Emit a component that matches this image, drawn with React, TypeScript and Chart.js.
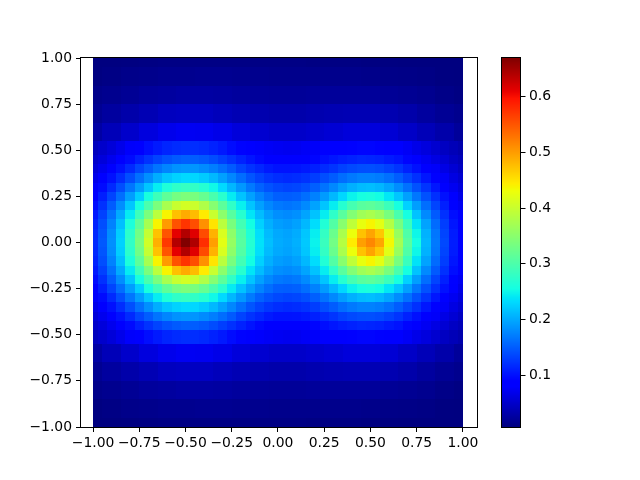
import React, { useEffect, useRef } from "react";
import { Chart, registerables } from "chart.js";

Chart.register(...registerables);

// x positions of the cell centres: fine rows (|y| <= 0.5) and coarse rows (|y| >= 0.6)
const xFine = [
  -1.0, -0.95, -0.9, -0.85, -0.8, -0.75, -0.7, -0.65, -0.6, -0.55, -0.5, -0.45, -0.4, -0.35, -0.3, -0.25, -0.2, -0.15, -0.1, -0.05,
  0.0, 0.05, 0.1, 0.15, 0.2, 0.25, 0.3, 0.35, 0.4, 0.45, 0.5, 0.55, 0.6, 0.65, 0.7, 0.75, 0.8, 0.85, 0.9, 0.95, 1.0,
];
const xCoarse = [-1.0, -0.9, -0.8, -0.7, -0.6, -0.5, -0.4, -0.3, -0.2, -0.1, 0.0, 0.1, 0.2, 0.3, 0.4, 0.5, 0.6, 0.7, 0.8, 0.9, 1.0];

// row centres, top to bottom
const yValues = [
  1.0, 0.9, 0.8, 0.7, 0.6,
  0.5, 0.45, 0.4, 0.35, 0.3, 0.25, 0.2, 0.15, 0.1, 0.05, 0.0, -0.05, -0.1, -0.15, -0.2, -0.25, -0.3, -0.35, -0.4, -0.45, -0.5,
  -0.6, -0.7, -0.8, -0.9, -1.0,
];

// values (the map is mirror-symmetric in y, so each row is used for +y and -y)
const rowAbsY100 = [0.006, 0.007, 0.008, 0.009, 0.010, 0.010, 0.010, 0.010, 0.010, 0.010, 0.010, 0.010, 0.009, 0.009, 0.009, 0.008, 0.008, 0.007, 0.006, 0.005, 0.004];
const rowAbsY090 = [0.008, 0.010, 0.013, 0.014, 0.016, 0.016, 0.017, 0.017, 0.016, 0.015, 0.014, 0.014, 0.014, 0.014, 0.014, 0.013, 0.012, 0.011, 0.010, 0.008, 0.007];
const rowAbsY080 = [0.013, 0.016, 0.019, 0.023, 0.025, 0.027, 0.027, 0.026, 0.024, 0.022, 0.021, 0.021, 0.022, 0.022, 0.022, 0.022, 0.020, 0.018, 0.016, 0.012, 0.009];
const rowAbsY070 = [0.018, 0.025, 0.031, 0.037, 0.043, 0.045, 0.045, 0.041, 0.037, 0.034, 0.032, 0.032, 0.034, 0.036, 0.037, 0.037, 0.035, 0.031, 0.025, 0.019, 0.015];
const rowAbsY060 = [0.028, 0.039, 0.050, 0.061, 0.069, 0.073, 0.072, 0.067, 0.059, 0.053, 0.049, 0.049, 0.052, 0.055, 0.059, 0.059, 0.055, 0.048, 0.039, 0.031, 0.022];
const rowAbsY050 = [0.042, 0.050, 0.058, 0.068, 0.078, 0.087, 0.098, 0.106, 0.113, 0.117, 0.119, 0.119, 0.116, 0.111, 0.105, 0.097, 0.091, 0.084, 0.078, 0.075, 0.073, 0.071, 0.072, 0.075, 0.077, 0.080, 0.084, 0.088, 0.090, 0.092, 0.092, 0.090, 0.086, 0.081, 0.075, 0.067, 0.061, 0.053, 0.045, 0.039, 0.033];
const rowAbsY045 = [0.050, 0.059, 0.070, 0.083, 0.096, 0.110, 0.122, 0.133, 0.142, 0.148, 0.151, 0.150, 0.146, 0.139, 0.130, 0.121, 0.111, 0.102, 0.094, 0.089, 0.087, 0.085, 0.086, 0.088, 0.092, 0.098, 0.103, 0.108, 0.111, 0.114, 0.113, 0.111, 0.106, 0.101, 0.092, 0.083, 0.073, 0.064, 0.055, 0.046, 0.039];
const rowAbsY040 = [0.058, 0.070, 0.085, 0.100, 0.116, 0.135, 0.150, 0.165, 0.176, 0.184, 0.187, 0.186, 0.180, 0.171, 0.160, 0.148, 0.133, 0.122, 0.114, 0.106, 0.101, 0.101, 0.102, 0.105, 0.110, 0.117, 0.123, 0.132, 0.137, 0.140, 0.141, 0.138, 0.132, 0.123, 0.111, 0.100, 0.088, 0.077, 0.065, 0.055, 0.045];
const rowAbsY035 = [0.068, 0.083, 0.100, 0.119, 0.140, 0.162, 0.182, 0.202, 0.217, 0.226, 0.230, 0.229, 0.221, 0.209, 0.193, 0.177, 0.160, 0.145, 0.133, 0.124, 0.119, 0.116, 0.118, 0.122, 0.129, 0.140, 0.149, 0.160, 0.168, 0.173, 0.173, 0.170, 0.162, 0.150, 0.135, 0.121, 0.104, 0.090, 0.076, 0.063, 0.053];
const rowAbsY030 = [0.078, 0.096, 0.116, 0.140, 0.166, 0.192, 0.218, 0.243, 0.263, 0.276, 0.281, 0.278, 0.268, 0.251, 0.231, 0.208, 0.188, 0.169, 0.153, 0.143, 0.136, 0.133, 0.135, 0.141, 0.151, 0.164, 0.178, 0.192, 0.204, 0.211, 0.213, 0.208, 0.197, 0.181, 0.163, 0.143, 0.123, 0.104, 0.087, 0.072, 0.060];
const rowAbsY025 = [0.087, 0.109, 0.134, 0.161, 0.192, 0.224, 0.258, 0.288, 0.315, 0.332, 0.339, 0.335, 0.320, 0.297, 0.271, 0.242, 0.216, 0.194, 0.175, 0.161, 0.151, 0.150, 0.152, 0.161, 0.173, 0.190, 0.209, 0.229, 0.247, 0.257, 0.260, 0.254, 0.239, 0.218, 0.193, 0.167, 0.142, 0.120, 0.100, 0.082, 0.066];
const rowAbsY020 = [0.097, 0.121, 0.149, 0.181, 0.218, 0.257, 0.298, 0.336, 0.373, 0.398, 0.408, 0.401, 0.379, 0.346, 0.312, 0.277, 0.245, 0.217, 0.194, 0.178, 0.168, 0.165, 0.168, 0.179, 0.195, 0.217, 0.243, 0.269, 0.294, 0.309, 0.313, 0.305, 0.286, 0.257, 0.225, 0.192, 0.161, 0.134, 0.110, 0.090, 0.073];
const rowAbsY015 = [0.105, 0.132, 0.163, 0.200, 0.242, 0.287, 0.336, 0.388, 0.438, 0.474, 0.489, 0.477, 0.444, 0.399, 0.351, 0.308, 0.270, 0.238, 0.212, 0.193, 0.182, 0.179, 0.183, 0.196, 0.216, 0.243, 0.275, 0.310, 0.343, 0.366, 0.374, 0.362, 0.335, 0.297, 0.256, 0.216, 0.179, 0.148, 0.121, 0.098, 0.079];
const rowAbsY010 = [0.111, 0.140, 0.174, 0.214, 0.261, 0.313, 0.372, 0.438, 0.500, 0.551, 0.572, 0.554, 0.507, 0.449, 0.387, 0.335, 0.291, 0.254, 0.225, 0.204, 0.192, 0.188, 0.194, 0.209, 0.233, 0.265, 0.304, 0.348, 0.391, 0.425, 0.437, 0.421, 0.382, 0.334, 0.284, 0.237, 0.195, 0.159, 0.129, 0.103, 0.083];
const rowAbsY005 = [0.115, 0.145, 0.181, 0.223, 0.273, 0.329, 0.396, 0.473, 0.549, 0.610, 0.639, 0.613, 0.556, 0.484, 0.412, 0.352, 0.304, 0.264, 0.234, 0.211, 0.199, 0.195, 0.201, 0.218, 0.244, 0.279, 0.323, 0.374, 0.428, 0.473, 0.494, 0.469, 0.419, 0.360, 0.302, 0.250, 0.205, 0.166, 0.134, 0.107, 0.086];
const rowAbsY000 = [0.116, 0.147, 0.183, 0.226, 0.277, 0.335, 0.405, 0.486, 0.569, 0.638, 0.667, 0.641, 0.576, 0.497, 0.421, 0.358, 0.308, 0.267, 0.236, 0.214, 0.201, 0.197, 0.204, 0.220, 0.247, 0.284, 0.330, 0.384, 0.443, 0.497, 0.514, 0.493, 0.434, 0.370, 0.309, 0.255, 0.208, 0.168, 0.136, 0.108, 0.087];

const zRows = [
  rowAbsY100, rowAbsY090, rowAbsY080, rowAbsY070, rowAbsY060,
  rowAbsY050, rowAbsY045, rowAbsY040, rowAbsY035, rowAbsY030, rowAbsY025, rowAbsY020, rowAbsY015, rowAbsY010, rowAbsY005,
  rowAbsY000,
  rowAbsY005, rowAbsY010, rowAbsY015, rowAbsY020, rowAbsY025, rowAbsY030, rowAbsY035, rowAbsY040, rowAbsY045, rowAbsY050,
  rowAbsY060, rowAbsY070, rowAbsY080, rowAbsY090, rowAbsY100,
];

// axis ticks and colour range
const xTickValues = [-1.0, -0.75, -0.5, -0.25, 0.0, 0.25, 0.5, 0.75, 1.0];
const yTickValues = [-1.0, -0.75, -0.5, -0.25, 0.0, 0.25, 0.5, 0.75, 1.0];
const colorbarTicks = [0.1, 0.2, 0.3, 0.4, 0.5, 0.6];
const colorMin = 0.007;
const colorMax = 0.668;

// jet colormap segments
const jetR: number[][] = [[0, 0], [0.35, 0], [0.66, 1], [0.89, 1], [1, 0.5]];
const jetG: number[][] = [[0, 0], [0.125, 0], [0.375, 1], [0.64, 1], [0.91, 0], [1, 0]];
const jetB: number[][] = [[0, 0.5], [0.11, 1], [0.34, 1], [0.65, 0], [1, 0]];

function seg(s: number[][], t: number) {
  for (let i = 1; i < s.length; i++) {
    if (t <= s[i][0]) {
      const [x0, y0] = s[i - 1];
      const [x1, y1] = s[i];
      return y0 + ((t - x0) / (x1 - x0)) * (y1 - y0);
    }
  }
  return s[s.length - 1][1];
}

function jet(v: number) {
  let t = (v - colorMin) / (colorMax - colorMin);
  t = Math.max(0, Math.min(1, t));
  const r = Math.round(seg(jetR, t) * 255);
  const g = Math.round(seg(jetG, t) * 255);
  const b = Math.round(seg(jetB, t) * 255);
  return `rgb(${r},${g},${b})`;
}

function fmt2(v: number) {
  const s = Math.abs(v) < 1e-9 ? "0.00" : v.toFixed(2);
  return s.replace("-", "\u2212");
}

function edges(centres: number[]) {
  const out: number[] = [centres[0]];
  for (let i = 1; i < centres.length; i++) out.push((centres[i - 1] + centres[i]) / 2);
  out.push(centres[centres.length - 1]);
  return out;
}

const FONT = { family: "'DejaVu Sans', sans-serif", size: 13.9 };

const heatmapPlugin = {
  id: "heatmapCells",
  beforeDatasetsDraw(chart: any) {
    const { ctx, chartArea } = chart;
    const xs = chart.scales.x;
    const ys = chart.scales.y;
    const yEdges = edges(yValues);
    const xEdgesFine = edges(xFine);
    const xEdgesCoarse = edges(xCoarse);
    ctx.save();
    ctx.beginPath();
    ctx.rect(chartArea.left, chartArea.top, chartArea.right - chartArea.left, chartArea.bottom - chartArea.top);
    ctx.clip();
    zRows.forEach((row, j) => {
      const py0 = Math.round(ys.getPixelForValue(yEdges[j]));
      const py1 = Math.round(ys.getPixelForValue(yEdges[j + 1]));
      const xe = row.length === xFine.length ? xEdgesFine : xEdgesCoarse;
      row.forEach((v, i) => {
        const px0 = Math.round(xs.getPixelForValue(xe[i]));
        const px1 = Math.round(xs.getPixelForValue(xe[i + 1]));
        ctx.fillStyle = jet(v);
        ctx.fillRect(px0, py0, px1 - px0, py1 - py0);
      });
    });
    ctx.restore();
  },
  afterDraw(chart: any) {
    const { ctx, chartArea } = chart;
    ctx.save();
    ctx.strokeStyle = "#000";
    ctx.lineWidth = 1;
    ctx.strokeRect(chartArea.left - 0.5, chartArea.top - 0.5, chartArea.right - chartArea.left + 1, chartArea.bottom - chartArea.top + 1);

    // colorbar
    const cb = chart.scales.cb;
    const cbLeft = 502;
    const cbRight = 520;
    const top = Math.round(cb.getPixelForValue(colorMax));
    const bottom = Math.round(cb.getPixelForValue(colorMin));
    for (let py = top; py < bottom; py++) {
      const v = cb.getValueForPixel(py + 0.5);
      ctx.fillStyle = jet(v);
      ctx.fillRect(cbLeft, py, cbRight - cbLeft, 1);
    }
    ctx.strokeStyle = "#000";
    ctx.lineWidth = 1;
    ctx.strokeRect(cbLeft - 0.5, top - 0.5, cbRight - cbLeft + 1, bottom - top + 1);
    ctx.fillStyle = "#000";
    ctx.font = `${FONT.size}px ${FONT.family}`;
    ctx.textAlign = "left";
    ctx.textBaseline = "middle";
    colorbarTicks.forEach((t) => {
      const py = Math.round(cb.getPixelForValue(t)) + 0.5;
      ctx.beginPath();
      ctx.moveTo(cbRight + 0.5, py);
      ctx.lineTo(cbRight + 5.5, py);
      ctx.stroke();
      ctx.fillText(t.toFixed(1), cbRight + 9, py);
    });
    ctx.restore();
  },
};

export default function App() {
  const canvasRef = useRef<HTMLCanvasElement | null>(null);

  useEffect(() => {
    const canvas = canvasRef.current;
    if (!canvas) return;
    const points: { x: number; y: number }[] = [];
    zRows.forEach((row, j) => {
      const xc = row.length === xFine.length ? xFine : xCoarse;
      row.forEach((_, i) => points.push({ x: xc[i], y: yValues[j] }));
    });

    const chart = new Chart(canvas, {
      type: "scatter",
      data: {
        datasets: [{ data: points, pointRadius: 0, pointHoverRadius: 0, showLine: false }],
      },
      options: {
        animation: false,
        responsive: false,
        devicePixelRatio: 1,
        events: [],
        layout: { padding: { top: 58, right: 163, bottom: 0, left: 0 } },
        plugins: { legend: { display: false }, tooltip: { enabled: false } },
        scales: {
          x: {
            type: "linear",
            min: -1.065,
            max: 1.076,
            afterFit: (s: any) => {
              s.height = 53;
            },
            afterBuildTicks: (s: any) => {
              s.ticks = xTickValues.map((v) => ({ value: v }));
            },
            border: { display: false },
            grid: { display: true, drawOnChartArea: false, drawTicks: true, tickLength: 5, color: "#000", lineWidth: 1 },
            ticks: {
              color: "#000",
              font: FONT,
              padding: 3,
              maxRotation: 0,
              autoSkip: false,
              callback: (v: any) => fmt2(Number(v)),
            },
          },
          y: {
            type: "linear",
            min: -1,
            max: 1,
            afterFit: (s: any) => {
              s.width = 81;
            },
            afterBuildTicks: (s: any) => {
              s.ticks = yTickValues.map((v) => ({ value: v }));
            },
            border: { display: false },
            grid: { display: true, drawOnChartArea: false, drawTicks: true, tickLength: 5, color: "#000", lineWidth: 1 },
            ticks: {
              color: "#000",
              font: FONT,
              padding: 4,
              autoSkip: false,
              callback: (v: any) => fmt2(Number(v)),
            },
          },
          cb: {
            type: "linear",
            position: "right",
            display: false,
            min: colorMin,
            max: colorMax,
          },
        },
      },
      plugins: [heatmapPlugin],
    });
    return () => chart.destroy();
  }, []);

  return (
    <div style={{ position: "absolute", left: 0, top: 0, width: 640, height: 480, background: "#fff" }}>
      <canvas ref={canvasRef} width={640} height={480} />
    </div>
  );
}
